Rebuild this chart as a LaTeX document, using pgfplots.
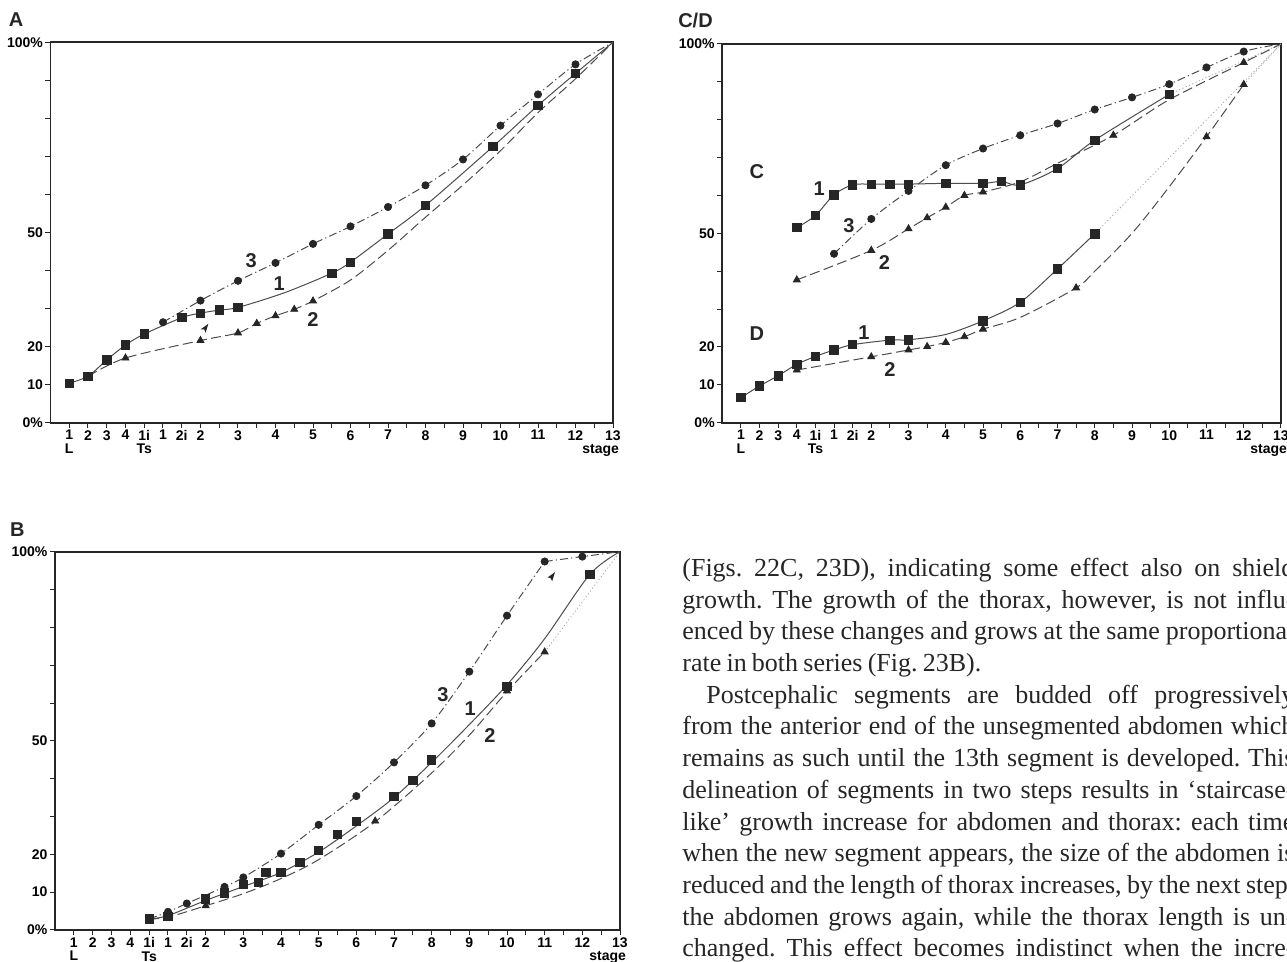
\documentclass[border=0pt]{standalone}
\usepackage{fontspec}
\setmainfont{Liberation Serif}
\newfontfamily\hv{Liberation Sans}
\usepackage{pgfplots}
\pgfplotsset{compat=1.18}
\pgfplotsset{
  panel/.style={
    scale only axis,
    xmin=-1, xmax=29, ymin=0, ymax=100,
    axis line style={line width=0.9pt, black!85},
    tick style={line width=0.5pt, black!85},
    tick align=outside,
    tick pos=left,
    major tick length=2.6pt,
    minor tick length=2.6pt,
    xtick={0,1,2,3,4,5,6,7,9,11,13,15,17,19,21,23,25,27,29},
    minor xtick={8,10,...,28},
    xticklabels={{1\\L},2,3,4,{1i\\Ts},1,2i,2,3,4,5,6,7,8,9,10,11,12,{13\\\makebox[0pt][r]{stage\kern-3pt}}},
    ytick={0,10,20,50,100},
    minor ytick={30,40,60,70,80,90},
    yticklabels={0\%,10,20,50,100\%},
    xticklabel style={font=\hv\bfseries\fontsize{7}{6.7}\selectfont, align=center, inner sep=1pt},
    yticklabel style={font=\hv\bfseries\fontsize{7}{8}\selectfont, inner sep=1pt},
  },
  s1/.style={black!70, line width=0.5pt, smooth},
  s2/.style={black!70, line width=0.5pt, smooth, dash pattern=on 5pt off 2.2pt},
  s3/.style={black!70, line width=0.5pt, smooth, dash pattern=on 4pt off 1.6pt on 0.6pt off 1.6pt},
  sdot/.style={black!35, line width=0.4pt, dash pattern=on 0.6pt off 1.2pt},
  m1/.style={only marks, mark=square*, mark size=2.1pt, black!85},
  m2/.style={only marks, mark=triangle*, mark size=2pt, black!85},
  m3/.style={only marks, mark=*, mark size=1.8pt, black!85},
}
\tikzset{lab/.style={font=\hv\bfseries\fontsize{10}{11}\selectfont, black!85},
  plab/.style={font=\hv\bfseries\fontsize{10}{11}\selectfont, black!85}}
\newcommand\tl[3]{\node[anchor=base west, inner sep=0pt, font=\fontsize{13}{15}\selectfont, black!85] at (#1,#2) {\frenchspacing\spaceskip=0.2em plus 0.6em minus 0.06em\relax #3};}
\begin{document}
\begin{tikzpicture}
% ---------------- Panel A ----------------
\node[plab] at (8pt,471pt) {A};
\begin{axis}[panel, at={(25.25pt,269.65pt)}, anchor=south west, width=281.25pt, height=190.2pt]
\addplot[s1] coordinates {(0,10.4)(1,12.2)(2,16.5)(3,20.4)(4,23.3)(6,27.6)(7,28.8)(8,29.6)(9,30.3)(11.5,34.2)(14,39.3)(15,42.2)(17,49.6)(19,57.1)(22.6,72.6)(25,83.4)(27,91.8)(29,100)};
\addplot[m1] coordinates {(0,10.4)(1,12.2)(2,16.5)(3,20.4)(4,23.3)(6,27.6)(7,28.8)(8,29.6)(9,30.3)(14,39.3)(15,42.2)(17,49.6)(19,57.1)(22.6,72.6)(25,83.4)(27,91.8)};
\addplot[s2] coordinates {(1,12.2)(3,17.0)(7,21.6)(9,23.6)(10,26.1)(11,28.1)(12,29.8)(13,32.0)(15,37.5)(17,45.3)(19,54.0)(21,62.5)(23,71.5)(25,81.5)(27,90.4)(29,100)};
\addplot[m2] coordinates {(3,17.0)(7,21.6)(9,23.6)(10,26.1)(11,28.1)(12,29.8)(13,32.0)};
\addplot[s3] coordinates {(5,26.4)(7,32.1)(9,37.3)(11,42.0)(13,47.0)(15,51.6)(17,56.7)(19,62.4)(21,69.2)(23,78.1)(25,86.3)(27,94.2)(29,100)};
\addplot[m3] coordinates {(5,26.4)(7,32.1)(9,37.3)(11,42.0)(13,47.0)(15,51.6)(17,56.7)(19,62.4)(21,69.2)(23,78.1)(25,86.3)(27,94.2)};
\fill[black!85] (axis cs:7.42,26.0) -- (axis cs:7.27,23.62) -- (axis cs:7.2,24.51) -- (axis cs:7.01,24.54) -- cycle;
\node[lab] at (axis cs:9.7,42.6) {3};
\node[lab] at (axis cs:11.2,36.5) {1};
\node[lab] at (axis cs:13.0,27.2) {2};
\end{axis}
% ---------------- Panel C/D ----------------
\node[plab] at (347.75pt,471pt) {C/D};
\begin{axis}[panel, at={(361.15pt,269.65pt)}, anchor=south west, width=279.35pt, height=189.35pt]
% C
\addplot[s1] coordinates {(3,51.5)(4,54.7)(5,60.2)(6,62.8)(7,63.0)(8,63.0)(9,63.0)(11,63.2)(13,63.2)(14,63.7)(15,62.8)(17,67.1)(19,74.6)(23,86.7)};
\addplot[sdot] coordinates {(23,86.7)(29,100)};
\addplot[m1] coordinates {(3,51.5)(4,54.7)(5,60.2)(6,62.8)(7,63.0)(8,63.0)(9,63.0)(11,63.2)(13,63.2)(14,63.7)(15,62.8)(17,67.1)(19,74.6)(23,86.7)};
\addplot[s2] coordinates {(3,37.7)(7,45.5)(9,51.2)(10,54.1)(11,56.9)(12,60.0)(13,60.9)(15,63.6)(17,68.5)(20,75.9)(23,85.3)(27,95.1)(29,100)};
\addplot[m2] coordinates {(3,37.7)(7,45.5)(9,51.2)(10,54.1)(11,56.9)(12,60.0)(13,60.9)(20,75.9)(27,95.1)};
\addplot[s3] coordinates {(5,44.6)(7,53.8)(9,61.2)(11,68.0)(13,72.4)(15,75.9)(17,79.0)(19,82.7)(21,85.9)(23,89.4)(25,93.8)(27,98.0)(29,100)};
\addplot[m3] coordinates {(5,44.6)(7,53.8)(9,61.2)(11,68.0)(13,72.4)(15,75.9)(17,79.0)(19,82.7)(21,85.9)(23,89.4)(25,93.8)(27,98.0)};
% D
\addplot[s1] coordinates {(0,6.6)(1,9.7)(2,12.4)(3,15.4)(4,17.5)(5,19.2)(6,20.6)(8,21.8)(9,21.9)(11,23.3)(13,26.9)(15,31.8)(17,40.6)(19,49.9)};
\addplot[sdot] coordinates {(19,49.9)(29,100)};
\addplot[m1] coordinates {(0,6.6)(1,9.7)(2,12.4)(3,15.4)(4,17.5)(5,19.2)(6,20.6)(8,21.8)(9,21.9)(13,26.9)(15,31.8)(17,40.6)(19,49.9)};
\addplot[s2] coordinates {(3,13.9)(7,17.4)(9,19.2)(10,20.1)(11,21.2)(12,22.7)(13,24.7)(15,27.8)(18,35.6)(19,40.0)(21,50.0)(23,62.3)(25,75.5)(27,89.3)};
\addplot[sdot] coordinates {(27,89.3)(29,100)};
\addplot[m2] coordinates {(3,13.9)(7,17.4)(9,19.2)(10,20.1)(11,21.2)(12,22.7)(13,24.7)(18,35.6)(25,75.5)(27,89.3)};
\node[lab] at (axis cs:0.85,66.2) {C};
\node[lab] at (axis cs:0.85,23.4) {D};
\node[lab] at (axis cs:4.2,61.8) {1};
\node[lab] at (axis cs:5.8,52.0) {3};
\node[lab] at (axis cs:7.7,42.4) {2};
\node[lab] at (axis cs:6.6,23.7) {1};
\node[lab] at (axis cs:8.0,14.1) {2};
\end{axis}
% ---------------- Panel B ----------------
\node[plab] at (8.7pt,216.3pt) {B};
\begin{axis}[panel, at={(27.5pt,16pt)}, anchor=south west, width=282.5pt, height=189.15pt]
\addplot[s1] coordinates {(4,2.9)(5,3.8)(7,7.8)(9,11.5)(11,15.2)(13,20.6)(15,27.5)(17,35.0)(19,44.3)(21,54.3)(23,64.8)(25,77.0)(27.4,94.0)(29,100)};
\addplot[m1] coordinates {(4,2.9)(5,3.6)(7,8.2)(8,9.8)(9,12.0)(9.8,12.6)(10.2,15.2)(11,15.3)(12,17.9)(13,21.0)(14,25.3)(15,28.7)(17,35.3)(18,39.5)(19,45.0)(23,64.4)(27.4,94.0)};
\addplot[s2] coordinates {(4,2.9)(5,3.4)(7,6.4)(9,9.6)(11,13.6)(13,18.6)(16,28.6)(19,41.5)(21,51.5)(23,63.0)(25,73.5)};
\addplot[sdot] coordinates {(25,73.5)(29,100)};
\addplot[m2] coordinates {(7,6.4)(16,28.8)(23,63.2)(25,73.5)};
\addplot[s3] coordinates {(4,2.9)(5,4.8)(6,7.0)(8,11.4)(9,13.9)(11,20.2)(13,27.8)(15,35.4)(17,44.3)(19,54.6)(21,68.3)(23,83.1)(25,97.4)};
\addplot[s3, sharp plot] coordinates {(25,97.4)(27,98.7)(29,100)};
\addplot[m3] coordinates {(5,4.8)(6,7.0)(8,11.4)(9,13.9)(11,20.2)(13,27.8)(15,35.4)(17,44.3)(19,54.6)(21,68.3)(23,83.1)(25,97.4)(27,98.7)};
\fill[black!85] (axis cs:25.55,94.6) -- (axis cs:25.4,92.21) -- (axis cs:25.3,93.1) -- (axis cs:25.14,93.13) -- cycle;
\node[lab] at (axis cs:19.6,62.1) {3};
\node[lab] at (axis cs:21.05,58.6) {1};
\node[lab] at (axis cs:22.1,51.3) {2};
\end{axis}
% ---------------- Text ----------------
\tl{341pt}{192.75pt}{\makebox[306pt][s]{(Figs. 22C, 23D), indicating some effect also on shield}}
\tl{341pt}{176.9pt}{\makebox[306pt][s]{growth. The growth of the thorax, however, is not influ-}}
\tl{341pt}{161.05pt}{\makebox[306pt][s]{enced by these changes and grows at the same proportional}}
\tl{341pt}{145.2pt}{rate in both series (Fig. 23B).}
\tl{353pt}{129.35pt}{\makebox[294pt][s]{Postcephalic segments are budded off progressively}}
\tl{341pt}{113.5pt}{\makebox[306pt][s]{from the anterior end of the unsegmented abdomen which}}
\tl{341pt}{97.65pt}{\makebox[306pt][s]{remains as such until the 13th segment is developed. This}}
\tl{341pt}{81.8pt}{\makebox[306pt][s]{delineation of segments in two steps results in ‘staircase-}}
\tl{341pt}{65.95pt}{\makebox[306pt][s]{like’ growth increase for abdomen and thorax: each time}}
\tl{341pt}{50.1pt}{\makebox[306pt][s]{when the new segment appears, the size of the abdomen is}}
\tl{341pt}{34.25pt}{\makebox[306pt][s]{reduced and the length of thorax increases, by the next step,}}
\tl{341pt}{18.4pt}{\makebox[306pt][s]{the abdomen grows again, while the thorax length is un-}}
\tl{341pt}{2.55pt}{\makebox[306pt][s]{changed. This effect becomes indistinct when the incre-}}
\pgfresetboundingbox
\path[use as bounding box] (0pt,0pt) rectangle (643.5pt,481pt);
\end{tikzpicture}
\end{document}
